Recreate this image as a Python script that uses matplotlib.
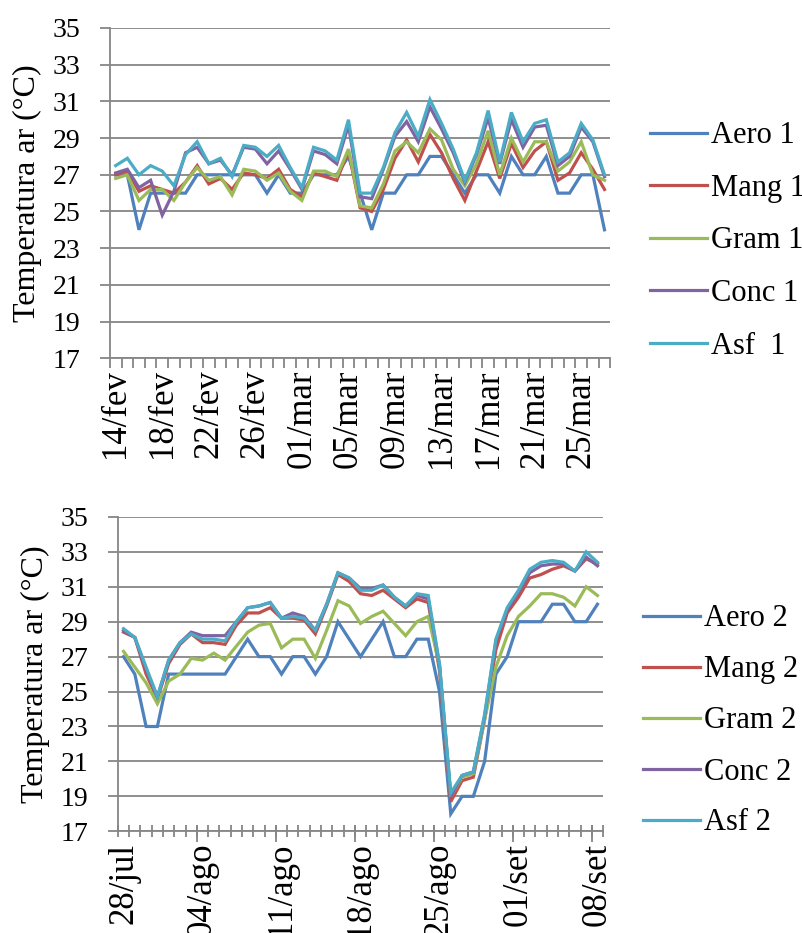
import numpy as np
import matplotlib
matplotlib.use('Agg')
import matplotlib.pyplot as plt

# ---- data ----
labels1 = ['14/fev', '18/fev', '22/fev', '26/fev', '01/mar', '05/mar',
           '09/mar', '13/mar', '17/mar', '21/mar', '25/mar']
labels2 = ['28/jul', '04/ago', '11/ago', '18/ago', '25/ago', '01/set', '08/set']

aero1 = [27, 27, 24, 26, 26, 26, 26, 27, 27, 27, 27, 27, 27, 26, 27, 26, 26, 27, 27, 27, 28,
         26, 24, 26, 26, 27, 27, 28, 28, 27, 26, 27, 27, 26, 28, 27, 27, 28, 26, 26, 27, 27, 24]
mang1 = [27.0, 27.2, 26.1, 26.4, 26.2, 26.0, 26.6, 27.5, 26.5, 26.8, 26.2, 27.1, 27.0, 26.8,
         27.3, 26.2, 25.8, 27.1, 26.9, 26.7, 28.3, 25.2, 25.0, 26.2, 27.9, 28.9, 27.7, 29.2,
         28.2, 26.8, 25.6, 27.2, 28.8, 26.8, 28.7, 27.4, 28.3, 28.8, 26.7, 27.1, 28.2, 27.3, 26.2]
gram1 = [26.8, 27.0, 25.6, 26.2, 26.2, 25.6, 26.6, 27.4, 26.7, 26.9, 25.9, 27.3, 27.2, 26.7,
         27.1, 26.1, 25.6, 27.2, 27.2, 26.9, 28.4, 25.3, 25.2, 26.5, 28.3, 28.8, 28.2, 29.5,
         28.9, 27.3, 26.4, 27.6, 29.4, 27.0, 29.0, 27.7, 28.8, 28.8, 27.2, 27.7, 28.8, 27.0, 26.7]
conc1 = [27.1, 27.3, 26.3, 26.7, 24.8, 26.1, 28.2, 28.5, 27.6, 27.8, 27.0, 28.5, 28.4, 27.6,
         28.3, 27.3, 26.2, 28.3, 28.1, 27.6, 29.7, 25.8, 25.7, 27.3, 29.1, 29.9, 28.8, 30.7,
         29.5, 28.2, 26.6, 28.1, 30.1, 27.6, 30.0, 28.5, 29.6, 29.7, 27.5, 28.0, 29.6, 28.8, 26.9]
asf1 = [27.5, 27.9, 27.0, 27.5, 27.2, 26.4, 28.1, 28.8, 27.6, 27.9, 26.9, 28.6, 28.5, 28.0,
        28.6, 27.4, 26.3, 28.5, 28.3, 27.8, 30.0, 26.0, 26.0, 27.4, 29.3, 30.4, 29.1, 31.1,
        29.8, 28.4, 26.7, 28.2, 30.5, 27.7, 30.4, 28.8, 29.8, 30.0, 27.7, 28.2, 29.8, 28.9, 27.0]

aero2 = [27, 26, 23, 23, 26, 26, 26, 26, 26, 26, 27, 28, 27, 27, 26, 27, 27, 26, 27, 29, 28,
         27, 28, 29, 27, 27, 28, 28, 25, 18, 19, 19, 21, 26, 27, 29, 29, 29, 30, 30, 29, 29, 30]
mang2 = [28.4, 28.1, 26.0, 24.6, 26.6, 27.7, 28.3, 27.8, 27.8, 27.7, 28.8, 29.5, 29.5, 29.8,
         29.2, 29.2, 29.1, 28.3, 29.9, 31.7, 31.3, 30.6, 30.5, 30.8, 30.3, 29.8, 30.3, 30.1,
         26.2, 18.7, 19.9, 20.1, 23.4, 27.4, 29.5, 30.4, 31.5, 31.7, 32.0, 32.2, 31.9, 32.6, 32.3]
gram2 = [27.3, 26.4, 25.5, 24.3, 25.6, 26.0, 26.9, 26.8, 27.2, 26.8, 27.6, 28.4, 28.8, 28.9,
         27.5, 28.0, 28.0, 26.9, 28.5, 30.2, 29.9, 28.9, 29.3, 29.6, 28.9, 28.2, 29.0, 29.3,
         26.5, 19.0, 20.1, 20.3, 23.4, 26.4, 28.2, 29.3, 29.9, 30.6, 30.6, 30.4, 29.9, 31.0, 30.5]
conc2 = [28.5, 28.1, 26.3, 24.7, 26.8, 27.8, 28.4, 28.2, 28.2, 28.2, 29.0, 29.8, 29.9, 30.1,
         29.2, 29.5, 29.3, 28.5, 30.0, 31.8, 31.5, 30.9, 30.9, 31.1, 30.4, 29.9, 30.5, 30.3,
         26.5, 19.0, 20.2, 20.4, 23.6, 27.9, 29.7, 30.7, 31.8, 32.2, 32.3, 32.3, 31.9, 32.7, 32.2]
asf2 = [28.6, 28.1, 26.4, 24.7, 26.8, 27.8, 28.3, 28.0, 28.0, 27.9, 29.0, 29.8, 29.9, 30.1,
        29.2, 29.3, 29.2, 28.5, 30.0, 31.8, 31.5, 30.8, 30.8, 31.1, 30.4, 29.9, 30.6, 30.5,
        26.6, 19.2, 20.2, 20.4, 23.7, 28.0, 29.8, 30.8, 32.0, 32.4, 32.5, 32.4, 31.9, 33.0, 32.4]

names1 = ['Aero 1', 'Mang 1', 'Gram 1', 'Conc 1', 'Asf  1']
names2 = ['Aero 2', 'Mang 2', 'Gram 2', 'Conc 2', 'Asf 2']
colors = ['#4F81BD', '#C0504D', '#9BBB59', '#8064A2', '#4BACC6']
grey = '#868686'

plt.rcParams['font.family'] = ['Liberation Serif', 'DejaVu Serif']


def style_axis(ax, series, names, labels, step, inout):
    '''draws the series and dresses the axis like the Excel original'''
    n = len(series[0])
    x = np.arange(n)
    for s, name, c in zip(series, names, colors):
        ax.plot(x, s, color=c, lw=2.3, label=name, solid_joinstyle='miter')
    ax.set_xlim(-0.5, n - 0.5)
    ax.set_ylim(17, 35)
    ax.set_yticks(np.arange(17, 36, 2))
    ax.grid(axis='y', color=grey, lw=1.3)
    ax.set_axisbelow(True)
    for side in ['top', 'right']:
        ax.spines[side].set_visible(False)
    for side in ['left', 'bottom']:
        ax.spines[side].set_color(grey)
        ax.spines[side].set_linewidth(1.3)
    ax.tick_params(axis='y', direction='out', length=7, width=1.3, color=grey,
                   labelsize=20, pad=14)
    # category labels at the centres, tick marks between categories
    ax.set_xticks(x[::step])
    ax.set_xticklabels(labels, rotation=90, fontsize=25)
    ax.set_xticks(np.arange(-0.5, n, 1.0), minor=True)
    ax.tick_params(axis='x', which='major', length=0, pad=8)
    if inout:
        ax.tick_params(axis='x', which='minor', direction='inout', length=9,
                       width=1.3, color=grey)
        # longer marks where a new week starts
        ax.vlines(np.arange(step - 0.5, n, step), -0.035, 0.02, color=grey, lw=1.3,
                  transform=ax.get_xaxis_transform(), clip_on=False)
    else:
        ax.tick_params(axis='x', which='minor', direction='out', length=7,
                       width=1.3, color=grey)
    ax.set_ylabel('Temperatura ar (°C)', fontsize=23)


fig = plt.figure(figsize=(8.02, 9.33), dpi=100)
ax1 = fig.add_axes([0.137, 0.616, 0.624, 0.354])
ax2 = fig.add_axes([0.147, 0.109, 0.605, 0.337])

style_axis(ax1, [aero1, mang1, gram1, conc1, asf1], names1, labels1, 4, False)
style_axis(ax2, [aero2, mang2, gram2, conc2, asf2], names2, labels2, 7, True)
ax1.yaxis.set_label_coords(-0.136, 0.5)
ax2.yaxis.set_label_coords(-0.14, 0.5)

leg_kw = dict(loc='center left', frameon=False, fontsize=22, handlelength=1.85,
              handletextpad=0.15, borderpad=0, borderaxespad=0)
ax1.legend(bbox_to_anchor=(650 / 802, 1 - 241 / 933), bbox_transform=fig.transFigure,
           labelspacing=0.77, **leg_kw)
ax2.legend(bbox_to_anchor=(643 / 802, 1 - 721 / 933), bbox_transform=fig.transFigure,
           labelspacing=0.72, **leg_kw)

fig.savefig('out.png', dpi=100)
